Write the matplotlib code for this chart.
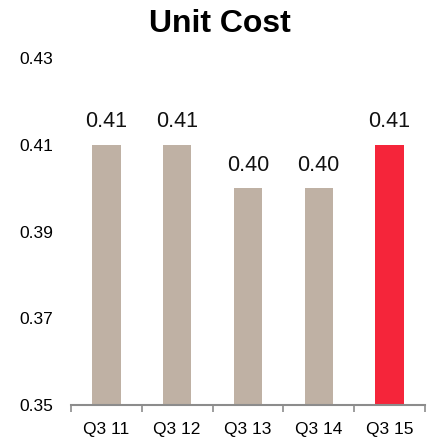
import matplotlib
matplotlib.use("Agg")
import matplotlib.pyplot as plt
import numpy as np

categories = ["Q3 11", "Q3 12", "Q3 13", "Q3 14", "Q3 15"]
values = [0.41, 0.41, 0.40, 0.40, 0.41]
labels = ["0.41", "0.41", "0.40", "0.40", "0.41"]
yticks = [0.35, 0.37, 0.39, 0.41, 0.43]
colors = ["#BFB1A4", "#BFB1A4", "#BFB1A4", "#BFB1A4", "#F5253A"]

plt.rcParams["font.family"] = ["Liberation Sans", "DejaVu Sans"]

fig = plt.figure(figsize=(4.34, 4.38), dpi=100)
ax = fig.add_axes([0.1636, 0.0753, 0.8154, 0.7923])

x = np.arange(len(categories))
bars = ax.bar(x, values, width=0.4, color=colors, zorder=2)

for xi, v, lab in zip(x, values, labels):
    ax.annotate(lab, (xi, v), xytext=(0, 9), textcoords="offset points",
                ha="center", va="bottom", fontsize=15.5, color="#111111")

ax.set_xlim(-0.5, len(categories) - 0.5)
ax.set_ylim(0.35, 0.43)
ax.set_yticks(yticks)
ax.set_yticklabels([f"{t:.2f}" for t in yticks], fontsize=12.5)
ax.tick_params(axis="y", length=0, pad=13)

ax.set_xticks(x)
ax.set_xticklabels(categories, fontsize=12.5)
ax.set_xticks(np.arange(len(categories) + 1) - 0.5, minor=True)
ax.tick_params(axis="x", which="major", length=0, pad=12)
ax.tick_params(axis="x", which="minor", length=5, width=1.2, color="#8C8C8C")

for s in ["left", "right", "top"]:
    ax.spines[s].set_visible(False)
ax.spines["bottom"].set_color("#8C8C8C")
ax.spines["bottom"].set_linewidth(1.5)

fig.text(0.507, 0.945, "Unit Cost", ha="center", va="center",
         fontsize=23, fontweight="bold")

fig.savefig("out.png", dpi=100)
